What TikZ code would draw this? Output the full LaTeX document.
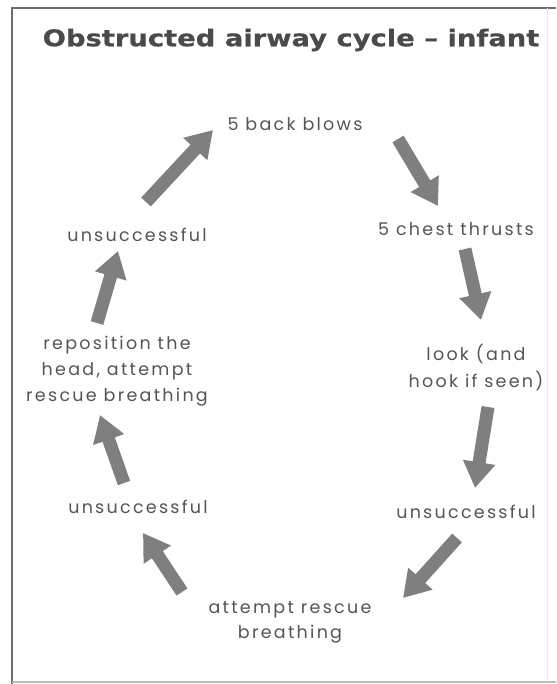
\documentclass[tikz,border=0pt]{standalone}
\usepackage{fontspec}
\setmainfont{Poppins}[LetterSpace=13]
\newfontfamily\titlefont{DejaVu Sans}[FontFace={b}{n}{DejaVu Sans Bold}, FakeStretch=1.19, FakeBold=0.6]
\usetikzlibrary{arrows.meta}
\definecolor{txt}{HTML}{555555}
\definecolor{ttl}{HTML}{4A4A4A}
\definecolor{arr}{HTML}{7F7F7F}
\definecolor{frameA}{HTML}{6E6E6E}
\definecolor{frameB}{HTML}{BBBBBB}
\begin{document}
\begin{tikzpicture}[x=1pt,y=-1pt,
  lbl/.style={text=txt, font=\fontsize{17.5}{26}\selectfont, align=center, inner sep=0pt},
  fat/.style={draw=arr, line width=13pt, line cap=butt,
              -{Triangle[length=26pt,width=31pt]}}]
\useasboundingbox (0,0) rectangle (556,684);
\fill[white] (0,0) rectangle (556,684);
% frame
\draw[frameA, line width=2pt] (12,684) -- (12,8) -- (556,8);
\draw[frameB, line width=1.5pt] (12,682) -- (556,682);
\draw[black!8, line width=1pt] (547,8) -- (547,682);
% title
\node[text=ttl, font=\titlefont\bfseries\fontsize{23}{26}\selectfont, inner sep=0pt]
  (title) at (291,40) {Obstructed airway cycle – infant};
% labels
\node[lbl] (bb)  at (295,124) {5 back blows};
\node[lbl] (ct)  at (456,229) {5 chest thrusts};
\node[lbl, font=\fontsize{17.5}{27}\selectfont] (lk)  at (476,367) {look (and\\hook if seen)};
\node[lbl] (ur)  at (466,512) {unsuccessful};
\node[lbl, font=\fontsize{17.5}{25}\selectfont] (ar)  at (290,622) {attempt rescue\\breathing};
\node[lbl] (ulb) at (138,507) {unsuccessful};
\node[lbl] (rp)  at (117,371) {reposition the\\head, attempt\\rescue breathing};
\node[lbl] (ult) at (137,235) {unsuccessful};
% arrow end points
\coordinate (a1s) at (398,139);  \coordinate (a1e) at (438,206);
\coordinate (a2s) at (465,249);  \coordinate (a2e) at (481,320);
\coordinate (a3s) at (488,407);  \coordinate (a3e) at (475,488);
\coordinate (a4s) at (457,538);  \coordinate (a4e) at (403,598);
\coordinate (a5s) at (182,592);  \coordinate (a5e) at (143,533);
\coordinate (a6s) at (124,483);  \coordinate (a6e) at (100,415);
\coordinate (a7s) at (97,323);   \coordinate (a7e) at (118,251);
\coordinate (a8s) at (146,202);  \coordinate (a8e) at (213,130);
% arrows
\draw[fat] (a1s) -- (a1e);
\draw[fat] (a2s) -- (a2e);
\draw[fat] (a3s) -- (a3e);
\draw[fat] (a4s) -- (a4e);
\draw[fat] (a5s) -- (a5e);
\draw[fat] (a6s) -- (a6e);
\draw[fat] (a7s) -- (a7e);
\draw[fat] (a8s) -- (a8e);
\end{tikzpicture}
\end{document}
